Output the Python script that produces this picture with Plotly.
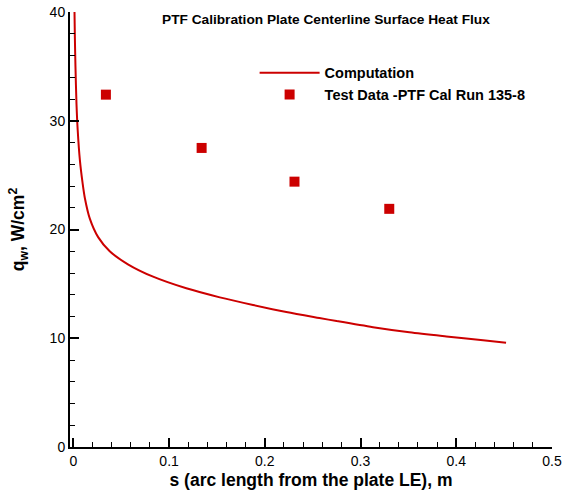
import plotly.graph_objects as go

# Computation curve
comp_s = [0.0012, 0.0016, 0.0022, 0.0033, 0.0045, 0.0068, 0.0096, 0.012, 0.0172,
          0.0259, 0.038, 0.057, 0.0833, 0.118, 0.153, 0.1877, 0.2225,
          0.257, 0.275, 0.313, 0.351, 0.3896, 0.428, 0.452]
comp_q = [40.0, 37.6, 35.0, 31.5, 29.2, 26.4, 24.3, 22.9, 21.0,
          19.3, 18.0, 16.8, 15.66, 14.59, 13.76, 13.06, 12.41,
          11.86, 11.58, 11.02, 10.55, 10.17, 9.82, 9.59]

# Test data
test_s = [0.034, 0.134, 0.231, 0.330]
test_q = [32.4, 27.5, 24.4, 21.9]

RED = "#cc0000"
FONT = "Liberation Sans, Arial, sans-serif"

fig = go.Figure()
fig.add_trace(go.Scatter(x=comp_s, y=comp_q, mode="lines", name="Computation",
                         line=dict(color=RED, width=2, shape="spline", smoothing=0.8)))
fig.add_trace(go.Scatter(x=test_s, y=test_q, mode="markers",
                         name="Test Data -PTF Cal Run 135-8",
                         marker=dict(symbol="square", size=10, color=RED)))

fig.update_layout(
    width=572, height=493,
    margin=dict(l=70, r=20, t=12, b=46),
    plot_bgcolor="white", paper_bgcolor="white",
    font=dict(family=FONT, color="black", size=14),
    showlegend=True,
    legend=dict(x=0.383, y=0.897, xanchor="left", yanchor="top",
                bgcolor="rgba(0,0,0,0)", font=dict(size=14.5, weight="bold"),
                tracegroupgap=0, itemwidth=60),
    annotations=[dict(text="<b>PTF Calibration Plate Centerline Surface Heat Flux</b>",
                      x=(326 - 70) / 482, xref="paper", y=1.005, yref="paper",
                      showarrow=False, font=dict(size=13.7),
                      xanchor="center", yanchor="top")],
)

fig.update_xaxes(range=[-0.0035, 0.5], showline=True, linecolor="black", linewidth=2,
                 mirror=False, showgrid=False, zeroline=False, automargin=False,
                 ticks="inside", ticklen=9, tickwidth=2, tickcolor="black",
                 dtick=0.1, tick0=0, tickfont=dict(size=14),
                 minor=dict(dtick=0.02, ticks="inside", ticklen=5, tickwidth=1, tickcolor="black"),
                 title=dict(text="<b>s (arc length from the plate LE), m</b>",
                            font=dict(size=17.5), standoff=6))
fig.update_yaxes(range=[0, 40], showline=True, linecolor="black", linewidth=2,
                 mirror=False, showgrid=False, zeroline=False, automargin=False,
                 ticks="inside", ticklen=9, tickwidth=2, tickcolor="black",
                 dtick=10, tick0=0, tickfont=dict(size=14),
                 minor=dict(dtick=2, ticks="inside", ticklen=5, tickwidth=1, tickcolor="black"),
                 title=dict(text="<b>q<sub>w</sub>, W/cm<sup>2</sup></b>",
                            font=dict(size=17.5), standoff=20))

fig.write_html("out.html")
